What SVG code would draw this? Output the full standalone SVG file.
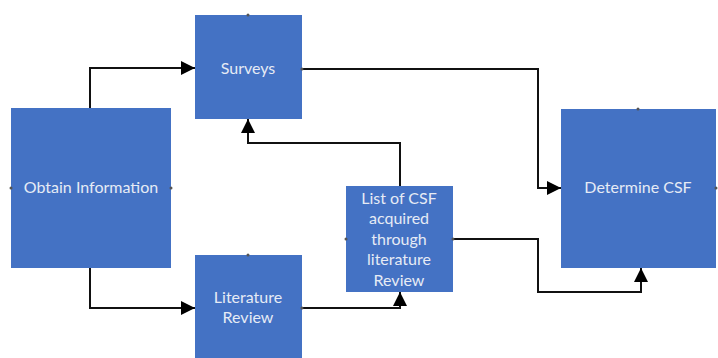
<svg xmlns="http://www.w3.org/2000/svg" width="718" height="358" viewBox="0 0 718 358">
<defs>
<style>
.box{fill:#4472C4;}
.lbl{font-family:Lato,"Open Sans",sans-serif;font-size:16px;fill:#E6EBF5;text-anchor:middle;}
.con{fill:none;stroke:#111;stroke-width:2;}
.dot{fill:#555;}
</style>
<marker id="ah" viewBox="0 0 10 10" refX="10" refY="5" markerWidth="7" markerHeight="7" markerUnits="strokeWidth" orient="auto">
<path d="M0,0 L10,5 L0,10 z" fill="#000"/>
</marker>
</defs>
<rect width="718" height="358" fill="#fff"/>
<g id="surveys">
<rect class="box" x="195" y="15" width="107" height="104"/>
<text class="lbl" x="248" y="74">Surveys</text>
</g>
<g id="obtain">
<rect class="box" x="11" y="108" width="160" height="160"/>
<text class="lbl" x="91" y="193">Obtain Information</text>
</g>
<g id="literature">
<rect class="box" x="195" y="255" width="107" height="103"/>
<text class="lbl" x="248" y="303">Literature</text>
<text class="lbl" x="248" y="323">Review</text>
</g>
<g id="listcsf">
<rect class="box" x="346" y="186" width="107" height="106"/>
<text class="lbl" x="399" y="204">List of CSF</text>
<text class="lbl" x="399" y="224">acquired</text>
<text class="lbl" x="399" y="245">through</text>
<text class="lbl" x="399" y="265">literature</text>
<text class="lbl" x="399" y="286">Review</text>
</g>
<g id="determine">
<rect class="box" x="561" y="109" width="155" height="159"/>
<text class="lbl" x="638" y="193">Determine CSF</text>
</g>
<g id="connectors">
<polyline class="con" points="90,108 90,68 195,68" marker-end="url(#ah)"/>
<polyline class="con" points="90,268 90,308 195,308" marker-end="url(#ah)"/>
<polyline class="con" points="302,69 538,69 538,188 561,188" marker-end="url(#ah)"/>
<polyline class="con" points="400,186 400,143 248,143 248,119" marker-end="url(#ah)"/>
<polyline class="con" points="302,308 400,308 400,292" marker-end="url(#ah)"/>
<polyline class="con" points="453,239 538,239 538,292 641,292 641,268" marker-end="url(#ah)"/>
</g>
<g id="handles">
<circle class="dot" cx="248" cy="15" r="1.5"/>
<circle class="dot" cx="302" cy="69" r="1.5"/>
<circle class="dot" cx="11" cy="188" r="1.5"/>
<circle class="dot" cx="171" cy="188" r="1.5"/>
<circle class="dot" cx="248" cy="255" r="1.5"/>
<circle class="dot" cx="302" cy="308" r="1.5"/>
<circle class="dot" cx="346" cy="239" r="1.5"/>
<circle class="dot" cx="453" cy="239" r="1.5"/>
<circle class="dot" cx="638" cy="109" r="1.5"/>
<circle class="dot" cx="716" cy="188" r="1.5"/>
</g>
</svg>
